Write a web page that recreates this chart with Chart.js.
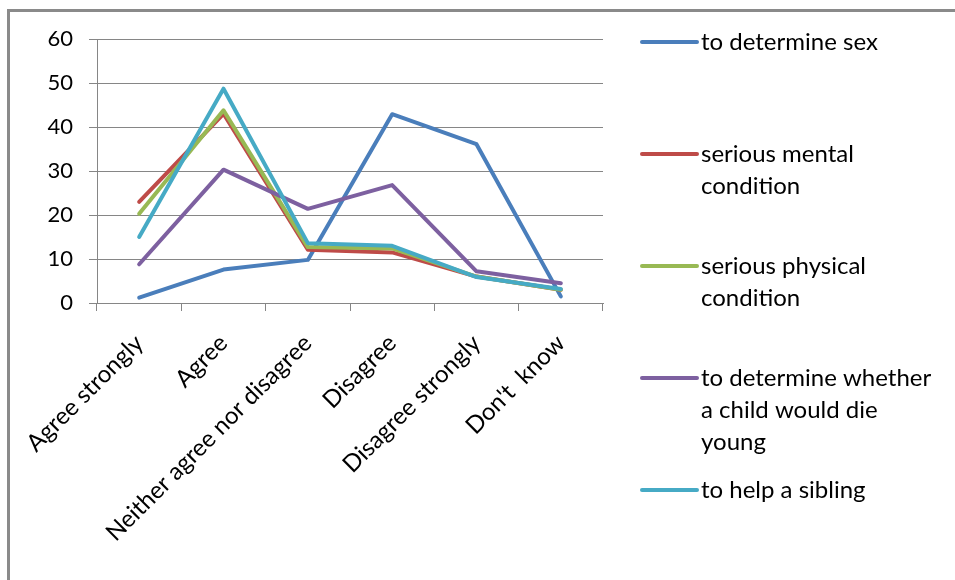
<!DOCTYPE html>
<html>
<head>
<meta charset="utf-8">
<script src="https://cdn.jsdelivr.net/npm/chart.js@4/dist/chart.umd.min.js"></script>
<style>
  html, body { margin: 0; padding: 0; background: #fff; }
  #wrap { width: 955px; height: 580px; position: relative; }
</style>
</head>
<body>
<div id="wrap"><canvas id="c" width="955" height="580"></canvas></div>
<script>
// Response categories along the x axis
const categories = ['Agree strongly', 'Agree', 'Neither agree nor disagree', 'Disagree', 'Disagree strongly', "Don't  know"];

// Percentages per reason
const toDetermineSex     = [1.2, 7.6, 9.8, 42.9, 36.1, 1.5];
const seriousMental      = [23.0, 43.0, 12.1, 11.5, 6.0, 3.0];
const seriousPhysical    = [20.3, 43.8, 12.7, 12.4, 6.0, 3.0];
const childWouldDieYoung = [8.8, 30.3, 21.4, 26.8, 7.2, 4.5];
const helpSibling        = [15.0, 48.7, 13.6, 13.0, 5.9, 3.2];

const seriesNames = ['to determine sex', 'serious mental condition', 'serious physical condition',
                     'to determine whether a child would die young', 'to help a sibling'];
const legendLines = [
  ['to determine sex'],
  ['serious mental', 'condition'],
  ['serious physical', 'condition'],
  ['to determine whether', 'a child would die', 'young'],
  ['to help a sibling']
];
const seriesColors = ['#4A7EBB', '#BE4B48', '#98B954', '#7D60A0', '#46AAC5'];

const yTicks = { min: 0, max: 60, step: 10 };

const FONT = 'Lato, "Open Sans", sans-serif';
const allSeries = [toDetermineSex, seriousMental, seriousPhysical, childWouldDieYoung, helpSibling];

// White background and the grey outer frame
const frame = {
  id: 'frame',
  beforeDraw(chart) {
    const ctx = chart.ctx;
    ctx.save();
    ctx.fillStyle = '#fff';
    ctx.fillRect(0, 0, chart.width, chart.height);
    ctx.strokeStyle = '#8a8a8a';
    ctx.lineWidth = 3;
    ctx.strokeRect(8.5, 10.5, chart.width + 20, chart.height + 20);
    ctx.restore();
  }
};

// Legend on the right, one evenly spaced slot per series, wrapped names
const sideLegend = {
  id: 'sideLegend',
  afterDraw(chart) {
    const ctx = chart.ctx;
    ctx.save();
    ctx.font = '24px ' + FONT;
    ctx.textBaseline = 'middle';
    ctx.fillStyle = '#000';
    chart.data.datasets.forEach((ds, i) => {
      const y0 = 42 + i * 112;
      ctx.strokeStyle = ds.borderColor;
      ctx.lineWidth = 4;
      ctx.lineCap = 'round';
      ctx.beginPath();
      ctx.moveTo(642, y0);
      ctx.lineTo(697, y0);
      ctx.stroke();
      legendLines[i].forEach((t, k) => {
        ctx.fillText(t, 701, y0 + k * 32);
      });
    });
    ctx.restore();
  }
};

new Chart(document.getElementById('c'), {
  type: 'line',
  data: {
    labels: categories,
    datasets: allSeries.map((vals, i) => ({
      label: seriesNames[i],
      data: vals,
      borderColor: seriesColors[i],
      backgroundColor: seriesColors[i],
      borderWidth: 4,
      borderJoinStyle: 'round',
      borderCapStyle: 'round',
      pointRadius: 0,
      tension: 0,
      fill: false,
      order: allSeries.length - i
    }))
  },
  options: {
    responsive: false,
    animation: false,
    layout: { padding: { left: 0, right: 352, top: 39, bottom: 0 } },
    plugins: { legend: { display: false }, tooltip: { enabled: false } },
    scales: {
      x: {
        offset: true,
        grid: { display: true, drawOnChartArea: false, offset: true, color: '#868686', tickLength: 8 },
        border: { color: '#868686', width: 1 },
        ticks: {
          color: '#000',
          font: { family: FONT, size: 24 },
          minRotation: 45, maxRotation: 45,
          autoSkip: false, padding: 18
        },
        afterFit(scale) { scale.height = 277; }
      },
      y: {
        min: yTicks.min, max: yTicks.max,
        grid: { color: '#868686', lineWidth: 1, tickLength: 8 },
        border: { color: '#868686', width: 1 },
        ticks: {
          stepSize: yTicks.step,
          color: '#000',
          font: { family: FONT, size: 22 },
          padding: 16
        },
        afterFit(scale) { scale.width = 97; }
      }
    }
  },
  plugins: [frame, sideLegend]
});
</script>
</body>
</html>
